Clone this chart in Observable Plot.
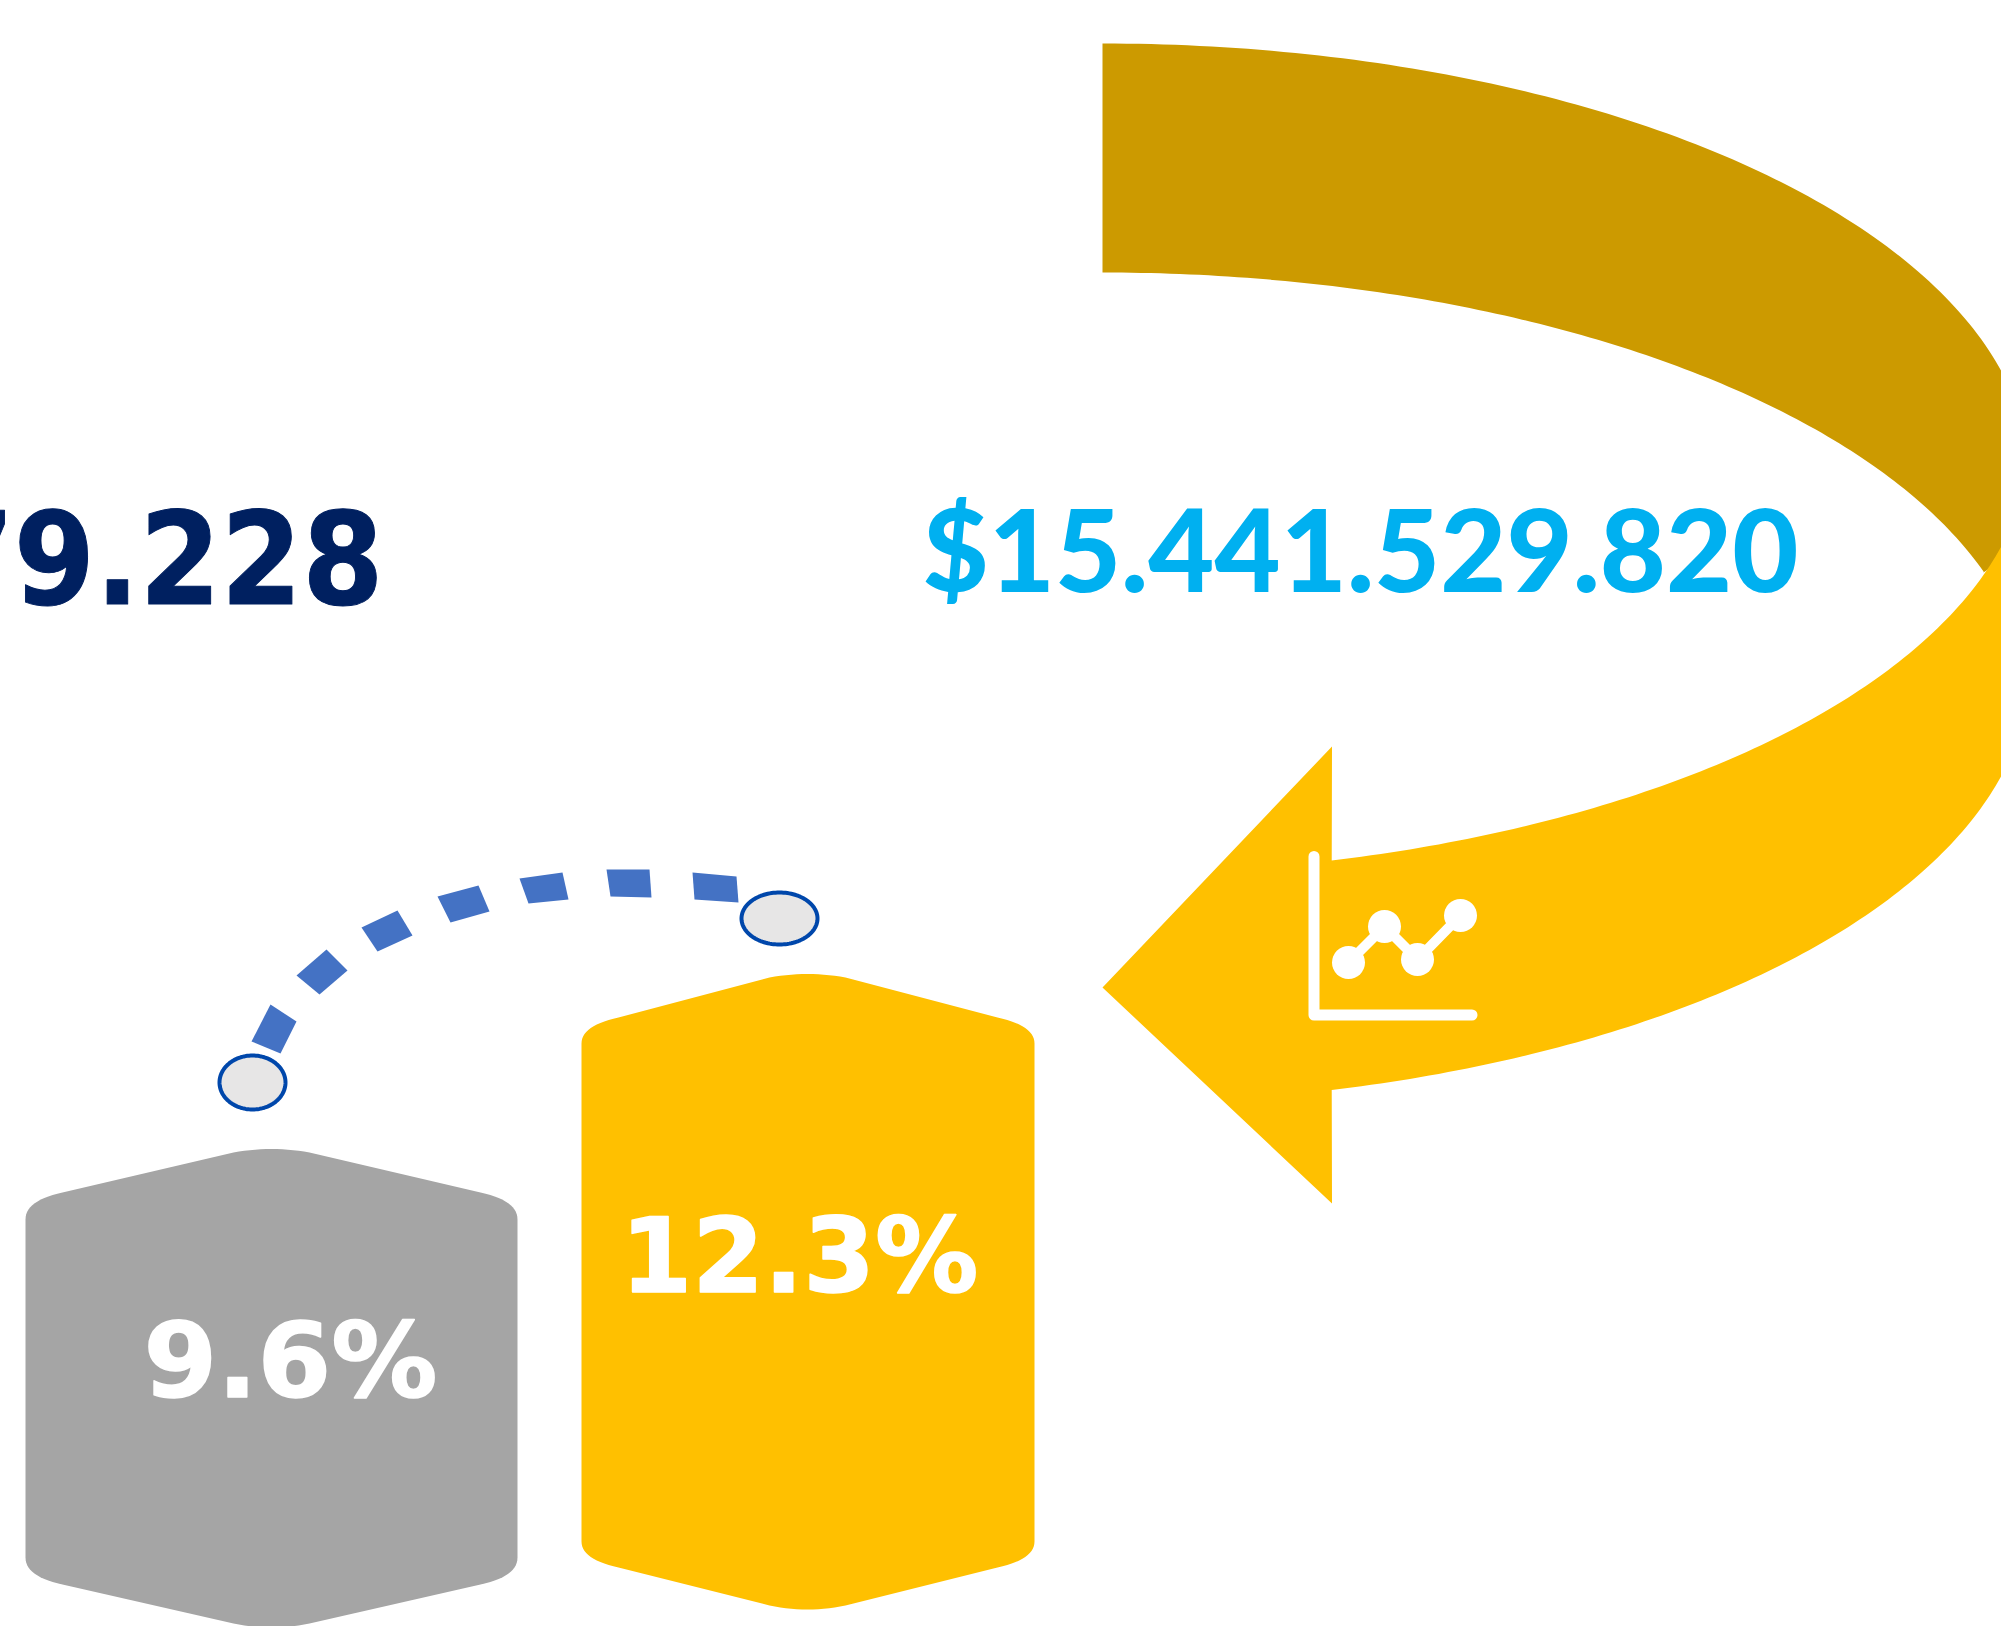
<!DOCTYPE html>
<html><head><meta charset="utf-8">
<script src="https://cdn.jsdelivr.net/npm/d3@7"></script>
<script src="https://cdn.jsdelivr.net/npm/@observablehq/plot@0.6"></script>
<style>html,body{margin:0;padding:0;background:#fff;overflow:hidden}svg{display:block;max-width:none!important}</style>
</head><body><div id="chart"></div>
<script>
// Values shown in the chart
const totals = ["79.228", "$15.441.529.820"];
const shares = [9.6, 12.3];

const W = 2001, H = 1626;
const colors = {gold:"#CC9A00", amber:"#FFC000", gray:"#A5A5A5", navy:"#002060", cyan:"#00B0F0", dash:"#4472C4", ring:"#0047AB", disc:"#E7E6E6"};

// outline helpers (page-unit geometry)
const arc = (cx,cy,rx,ry,a0,a1,n=120)=>d3.range(n+1).map(i=>{const t=(a0+(a1-a0)*i/n)*Math.PI/180;return [cx+rx*Math.cos(t),cy+ry*Math.sin(t)];});
const quad = (p,c,q,n=14)=>d3.range(n+1).map(i=>{const t=i/n,u=1-t;return [u*u*p[0]+2*u*t*c[0]+t*t*q[0],u*u*p[1]+2*u*t*c[1]+t*t*q[1]];});
function badge(l,r,c,top,sh,bot,sb,o){ // rounded hexagon
  return [
    ...quad([l,sh+o],[l,sh],[l+37,sh-8]),
    ...quad([c-38,top+3],[c,top-4],[c+38,top+3]),
    ...quad([r-37,sh-8],[r,sh],[r,sh+o]),
    ...quad([r,sb-o],[r,sb],[r-37,sb+8]),
    ...quad([c+38,bot-4],[c,bot+4],[c-38,bot-4]),
    ...quad([l+37,sb+8],[l,sb],[l,sb-o])
  ];
}
const RX = 928, RY = 436, CX = 1102;
const band = [
  ...arc(CX,479,RX,RY,-90,0),
  [2030,540],[1983,572],
  ...arc(CX,708,RX,RY,-18.3,-90)
];
const arrow = [
  [1102,987],[1331.5,746],
  ...arc(CX,437.5,RX,RY,75.7,0),
  ...arc(CX,667,RX,RY,0,75.7),
  [1331.5,1203]
];
const dashes = [
  [[270,1004],[296,1021],[280,1053],[251,1041]],
  [[296,975],[326,949],[347,970],[319,994]],
  [[361,927],[397,910],[412,935],[377,951]],
  [[437,896],[478,885],[489,911],[450,922]],
  [[519,878],[562,872],[568,899],[528,903]],
  [[606,869],[649,869],[651,897],[610,896]],
  [[692,872],[736,876],[738,902],[694,899]]
];
const shapes = pts=>pts.map(p=>({x:p[0],y:p[1]}));
const fillLine = (pts,fill)=>Plot.line(shapes(pts),{x:"x",y:"y",fill,stroke:"none"});
const iconPts = shapes([[1348,962],[1384,926],[1417,959],[1460,915]]);

const labels = [
  {text:totals[0],x:-68,y:603,size:128,len:451,font:"DejaVu Sans",fill:colors.navy,weight:700,sw:1},
  {text:totals[1],x:922,y:591,size:115,len:876,font:"Lato",fill:colors.cyan,weight:900,sw:0},
  {text:shares[1].toFixed(1)+"%",x:620,y:1291,size:103,len:358,font:"DejaVu Sans",fill:"#fff",weight:700,sw:1.5},
  {text:shares[0].toFixed(1)+"%",x:143,y:1396,size:103,len:294,font:"DejaVu Sans",fill:"#fff",weight:700,sw:1.5}
];

const svg = Plot.plot({
  width:W, height:H, margin:0,
  x:{domain:[0,W],range:[0,W],axis:null},
  y:{domain:[0,H],range:[0,H],axis:null},
  style:{background:"#fff"},
  marks:[
    fillLine(band,colors.gold),
    fillLine(arrow,colors.amber),
    Plot.line(shapes([[1313.5,856],[1313.5,1014.5],[1471.5,1014.5]]),{x:"x",y:"y",stroke:"#fff",strokeWidth:11,strokeLinecap:"round",strokeLinejoin:"round"}),
    Plot.line(iconPts,{x:"x",y:"y",stroke:"#fff",strokeWidth:10}),
    Plot.dot(iconPts,{x:"x",y:"y",r:16.5,fill:"#fff",stroke:"none"}),
    fillLine(badge(25,517,271,1149,1200,1627,1576,19),colors.gray),
    fillLine(badge(581,1034,807,974,1025,1609,1559,18),colors.amber),
    ...dashes.map(d=>fillLine(d,colors.dash)),
    Plot.line(shapes(arc(252,1082,33,27,0,360)),{x:"x",y:"y",fill:colors.disc,stroke:colors.ring,strokeWidth:4}),
    Plot.line(shapes(arc(779,918,38,26,0,360)),{x:"x",y:"y",fill:colors.disc,stroke:colors.ring,strokeWidth:4}),
    ...labels.map(l=>Plot.text([l],{x:"x",y:"y",text:"text",fill:l.fill,stroke:l.sw?l.fill:"none",strokeWidth:l.sw,fontSize:l.size,fontFamily:l.font,fontWeight:l.weight,textAnchor:"start",lineAnchor:"bottom",
      render(i,s,v,d,c,next){const g=next(i,s,v,d,c);g.querySelectorAll("text").forEach(t=>{t.setAttribute("textLength",l.len);t.setAttribute("lengthAdjust","spacingAndGlyphs");});return g;}}))
  ]
});
document.getElementById("chart").append(svg);
</script></body></html>
